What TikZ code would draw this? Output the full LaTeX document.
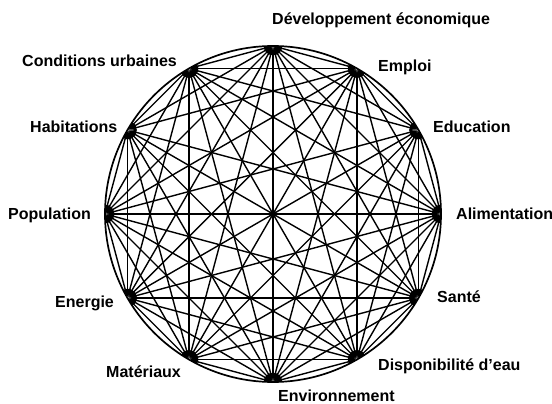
\documentclass[tikz,border=0pt]{standalone}
\usepackage{fontspec}
\setmainfont{Liberation Sans}
\usetikzlibrary{arrows.meta}
\begin{document}
\begin{tikzpicture}[x=1pt,y=-1pt,
  chord/.style={line width=1.4pt,{Latex[length=9pt,width=5pt]}-{Latex[length=9pt,width=5pt]}},
  rim/.style={line width=1.7pt},
  lbl/.style={font=\bfseries\fontsize{16}{18}\selectfont,inner sep=0pt,anchor=west}]
\useasboundingbox (0,0) rectangle (552,404);
\coordinate (c) at (273,214);
\foreach \i in {0,...,11}{
  \coordinate (n\i) at ({273+168*sin(30*\i)},{214-168*cos(30*\i)});
}
\draw[rim] (c) circle[radius=168pt];
\foreach \i in {0,...,10}{
  \pgfmathtruncatemacro\s{\i+1}
  \foreach \j in {\s,...,11}{
    \pgfmathtruncatemacro\skip{(\i==2 && \j==10) ? 1 : 0}
    \ifnum\skip=0
      \draw[chord] (n\i) -- (n\j);
    \fi
  }
}
\fill (c) circle[radius=3.5pt];
\node[lbl] (l0) at (272,20) {Développement économique};
\node[lbl] (l1) at (378,67) {Emploi};
\node[lbl] (l2) at (433,127) {Education};
\node[lbl] (l3) at (456,214) {Alimentation};
\node[lbl] (l4) at (437,297) {Santé};
\node[lbl] (l5) at (378,366) {Disponibilité d'eau};
\node[lbl] (l6) at (278,396) {Environnement};
\node[lbl] (l7) at (106,372) {Matériaux};
\node[lbl] (l8) at (55,303) {Energie};
\node[lbl] (l9) at (8,215) {Population};
\node[lbl] (l10) at (30,127) {Habitations};
\node[lbl] (l11) at (22,61) {Conditions urbaines};
\end{tikzpicture}
\end{document}
